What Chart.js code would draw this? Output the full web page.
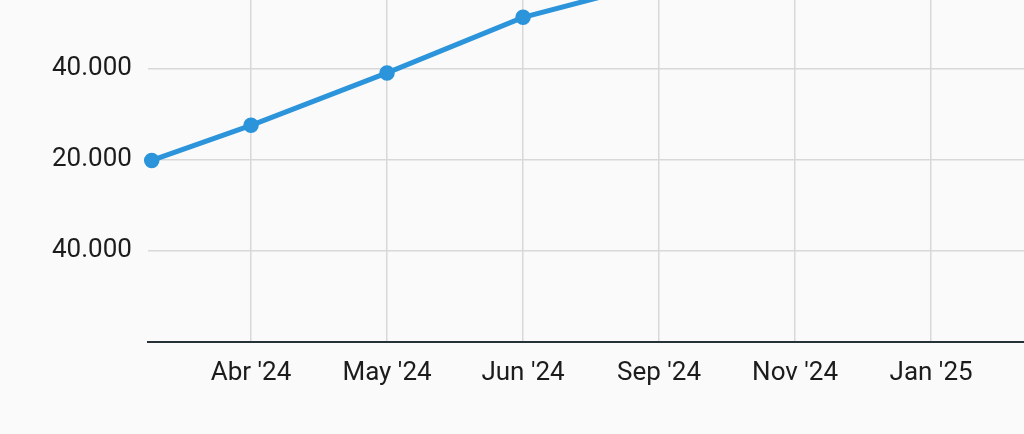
<!DOCTYPE html>
<html>
<head>
<meta charset="utf-8">
<script src="https://cdn.jsdelivr.net/npm/chart.js@4/dist/chart.umd.min.js"></script>
<style>
  html, body { margin: 0; padding: 0; background: #fafafa; }
  #wrap { width: 1024px; height: 434px; position: relative; }
</style>
</head>
<body>
<div id="wrap"><canvas id="c"></canvas></div>
<script>
// Data
const categories = ["Abr '24", "May '24", "Jun '24", "Sep '24", "Nov '24", "Jan '25"];
const categoryPositions = [1, 2, 3, 4, 5, 6];
const pointPositions = [0.27, 1, 2, 3, 4];
const seriesValues = [19800, 27500, 39000, 51200, 59000];
const yTickValues = [0, 20000, 40000];
const yTickLabels = ['40.000', '20.000', '40.000'];

const data = pointPositions.map((x, i) => ({ x: x, y: seriesValues[i] }));

new Chart(document.getElementById('c'), {
  type: 'line',
  data: {
    datasets: [{
      data: data,
      clip: false,
      borderColor: '#2b94da',
      backgroundColor: '#2b94da',
      borderWidth: 5,
      pointRadius: 7,
      pointBorderWidth: 1.5,
      pointBorderColor: '#2b94da',
      pointBackgroundColor: '#2b94da',
      tension: 0,
      fill: false
    }]
  },
  options: {
    responsive: true,
    maintainAspectRatio: false,
    animation: false,
    layout: { autoPadding: false, padding: { left: 36, right: 0, top: 0, bottom: 29 } },
    plugins: { legend: { display: false }, tooltip: { enabled: false } },
    scales: {
      x: {
        type: 'linear',
        min: 0.242,
        max: 6.683,
        afterBuildTicks: (s) => { s.ticks = categoryPositions.map(v => ({ value: v })); },
        afterFit: (s) => { s.paddingLeft = 0; s.paddingRight = 0; },
        ticks: {
          callback: (v) => { const i = categoryPositions.indexOf(v); return i >= 0 ? categories[i] : ''; },
          color: '#1c1c1c',
          font: { family: 'Roboto', size: 26 },
          padding: 16,
          maxRotation: 0,
          autoSkip: false
        },
        grid: { color: '#d8d8d8', lineWidth: 1.5, drawTicks: false },
        border: { display: true, color: '#263238', width: 2 }
      },
      y: {
        type: 'linear',
        min: -20000,
        max: 55000,
        afterBuildTicks: (s) => { s.ticks = yTickValues.map(v => ({ value: v })); },
        afterFit: (s) => { s.paddingTop = 0; s.paddingBottom = 0; },
        ticks: {
          callback: (v) => { const i = yTickValues.indexOf(v); return i >= 0 ? yTickLabels[i] : ''; },
          color: '#1c1c1c',
          font: { family: 'Roboto', size: 26 },
          padding: 16
        },
        grid: { color: '#d8d8d8', lineWidth: 1.5, drawTicks: false },
        border: { display: false }
      }
    }
  }
});
</script>
</body>
</html>
